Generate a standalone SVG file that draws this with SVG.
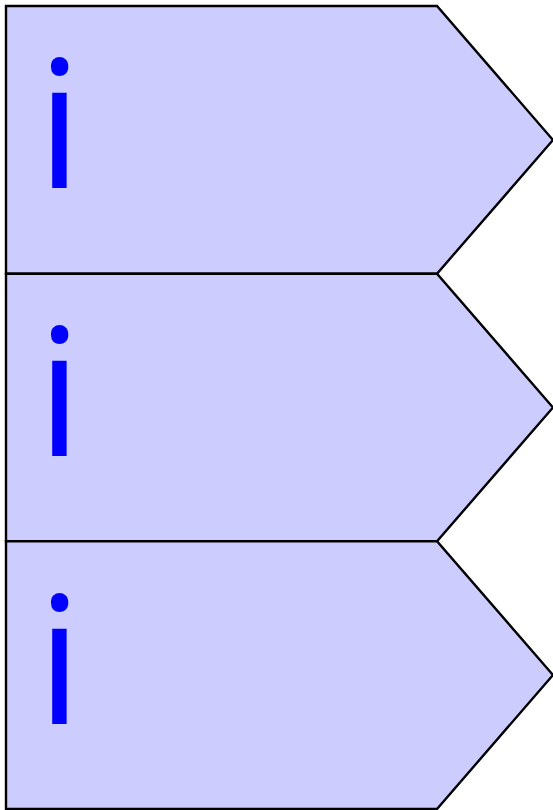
<svg xmlns="http://www.w3.org/2000/svg" width="553" height="810" viewBox="0 0 553 810">
<style>
.shape{fill:#ccccff;stroke:#000;stroke-width:2.4;stroke-linejoin:miter}
.lbl{font-family:"Open Sans","Noto Sans",sans-serif;font-size:178px;fill:#0000ff}
</style>
<rect width="553" height="810" fill="#fff"/>
<g id="node1">
<polygon class="shape" points="6,6 437,6 553,140 437,273.7 6,273.7"/>
<text class="lbl" x="37" y="188">i</text>
</g>
<g id="node2">
<polygon class="shape" points="6,273.7 437,273.7 553,407.5 437,541.3 6,541.3"/>
<text class="lbl" x="37" y="456">i</text>
</g>
<g id="node3">
<polygon class="shape" points="6,541.3 437,541.3 553,675 437,809 6,809"/>
<text class="lbl" x="37" y="724">i</text>
</g>
<g id="connectors"></g>
</svg>
